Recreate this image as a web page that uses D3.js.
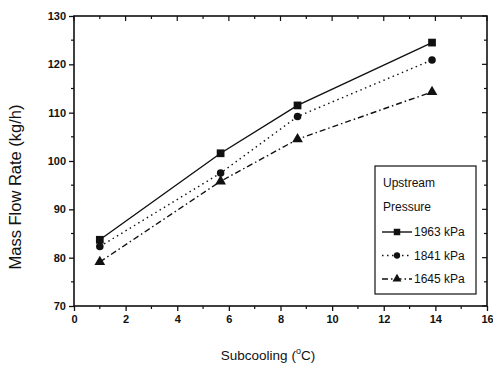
<!DOCTYPE html>
<html>
<head>
<meta charset="utf-8">
<script src="https://cdn.jsdelivr.net/npm/d3@7"></script>
<style>
  body { margin: 0; background: #fff; }
  svg text { font-family: "Liberation Sans", Arial, sans-serif; fill: #111; }
</style>
</head>
<body>
<svg id="chart" width="493" height="368"></svg>
<script>
// subcooling values (°C)
const subcooling = [1.0, 5.68, 8.66, 13.87];
// mass flow rate (kg/h) per upstream pressure
const p1963 = [83.7, 101.6, 111.5, 124.5];
const p1841 = [82.3, 97.5, 109.2, 120.9];
const p1645 = [79.1, 95.8, 104.5, 114.3];
const seriesNames = ['1963 kPa', '1841 kPa', '1645 kPa'];
const xTicks = [0, 2, 4, 6, 8, 10, 12, 14, 16];
const yTicks = [70, 80, 90, 100, 110, 120, 130];

const svg = d3.select('#chart');
const plotL = 74, plotR = 487, plotT = 16, plotB = 306;

const x = d3.scaleLinear().domain([0, 16]).range([plotL, plotR]);
const y = d3.scaleLinear().domain([70, 130]).range([plotB, plotT]);

const ink = '#111';

// frame
svg.append('rect')
  .attr('x', plotL).attr('y', plotT)
  .attr('width', plotR - plotL).attr('height', plotB - plotT)
  .attr('fill', 'none').attr('stroke', ink).attr('stroke-width', 1.6);

// bottom axis (outward ticks) with minor ticks
const xMinor = d3.range(0, 17, 1);
const yMinor = d3.range(70, 131, 5);

const gx = svg.append('g').attr('transform', 'translate(0,' + plotB + ')')
  .call(d3.axisBottom(x).tickValues(xTicks).tickSize(5).tickPadding(4).tickFormat(d3.format('d')));
gx.select('.domain').remove();
gx.selectAll('line').attr('stroke', ink).attr('stroke-width', 1.3);
gx.selectAll('text').attr('font-size', 11).attr('font-weight', 'bold').style('font-family', '"Liberation Sans", Arial, sans-serif');
svg.append('g').selectAll('line').data(xMinor.filter(d => d % 2)).join('line')
  .attr('x1', d => x(d)).attr('x2', d => x(d))
  .attr('y1', plotB).attr('y2', plotB + 3)
  .attr('stroke', ink).attr('stroke-width', 1.2);

// top mirror ticks (inward)
svg.append('g').selectAll('line').data(xMinor).join('line')
  .attr('x1', d => x(d)).attr('x2', d => x(d))
  .attr('y1', plotT).attr('y2', d => plotT + (d % 2 ? 3 : 5))
  .attr('stroke', ink).attr('stroke-width', 1.2);

// left axis
const gy = svg.append('g').attr('transform', 'translate(' + plotL + ',0)')
  .call(d3.axisLeft(y).tickValues(yTicks).tickSize(5).tickPadding(3).tickFormat(d3.format('d')));
gy.select('.domain').remove();
gy.selectAll('line').attr('stroke', ink).attr('stroke-width', 1.3);
gy.selectAll('text').attr('font-size', 11).attr('font-weight', 'bold').style('font-family', '"Liberation Sans", Arial, sans-serif');
svg.append('g').selectAll('line').data(yMinor.filter(d => d % 10)).join('line')
  .attr('x1', plotL - 3).attr('x2', plotL)
  .attr('y1', d => y(d)).attr('y2', d => y(d))
  .attr('stroke', ink).attr('stroke-width', 1.2);

// right mirror ticks (inward)
svg.append('g').selectAll('line').data(yMinor).join('line')
  .attr('x1', d => plotR - (d % 10 ? 3 : 5)).attr('x2', plotR)
  .attr('y1', d => y(d)).attr('y2', d => y(d))
  .attr('stroke', ink).attr('stroke-width', 1.2);

// axis titles
svg.append('text')
  .attr('transform', 'translate(21,187) rotate(-90)')
  .attr('text-anchor', 'middle').attr('font-size', 16.5)
  .text('Mass Flow Rate (kg/h)');

const xt = svg.append('text')
  .attr('x', 268).attr('y', 360).attr('text-anchor', 'middle').attr('font-size', 13.5);
xt.append('tspan').text('Subcooling (');
xt.append('tspan').attr('font-size', 9).attr('dy', -6).text('o');
xt.append('tspan').attr('dy', 6).text('C)');

// series
const series = [
  {name: seriesNames[0], values: p1963, dash: null, symbol: d3.symbolSquare, size: 60},
  {name: seriesNames[1], values: p1841, dash: '1.5,3.5', symbol: d3.symbolCircle, size: 45},
  {name: seriesNames[2], values: p1645, dash: '6,3,1.5,3', symbol: d3.symbolTriangle, size: 50}
];

const line = d3.line().x(d => x(d[0])).y(d => y(d[1]));

series.forEach(s => {
  const pts = subcooling.map((v, i) => [v, s.values[i]]);
  svg.append('path')
    .datum(pts)
    .attr('d', line)
    .attr('fill', 'none')
    .attr('stroke', ink)
    .attr('stroke-width', 1.4)
    .attr('stroke-dasharray', s.dash);
  svg.append('g').selectAll('path').data(pts).join('path')
    .attr('transform', d => 'translate(' + x(d[0]) + ',' + y(d[1]) + ')')
    .attr('d', d3.symbol().type(s.symbol).size(s.size))
    .attr('fill', ink);
});

// legend
const lg = svg.append('g').attr('transform', 'translate(375,166)');
lg.append('rect').attr('width', 101).attr('height', 128)
  .attr('fill', '#fff').attr('stroke', ink).attr('stroke-width', 1.2);
lg.append('text').attr('x', 8).attr('y', 21).attr('font-size', 12).text('Upstream');
lg.append('text').attr('x', 8).attr('y', 45).attr('font-size', 12).text('Pressure');
series.forEach((s, i) => {
  const ly = 66 + i * 23.5;
  lg.append('line').attr('x1', 7).attr('x2', 37).attr('y1', ly).attr('y2', ly)
    .attr('stroke', ink).attr('stroke-width', 1.4).attr('stroke-dasharray', s.dash);
  lg.append('path').attr('transform', 'translate(22,' + ly + ')')
    .attr('d', d3.symbol().type(s.symbol).size(s.size * 0.7)).attr('fill', ink);
  lg.append('text').attr('x', 39).attr('y', ly + 4).attr('font-size', 12).text(s.name);
});
</script>
</body>
</html>
